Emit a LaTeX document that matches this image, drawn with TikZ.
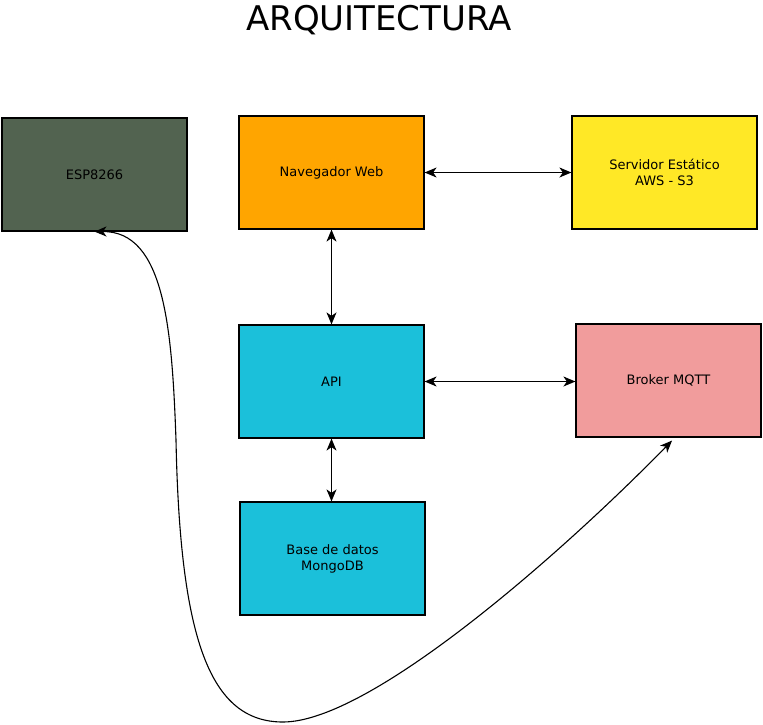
\documentclass[tikz,border=0pt]{standalone}
\usepackage{xcolor}
\usepackage{fontspec}
\setmainfont{DejaVu Sans}
\usetikzlibrary{arrows.meta, positioning}

\definecolor{espgreen}{HTML}{526350}
\definecolor{navorange}{HTML}{FFA500}
\definecolor{s3yellow}{HTML}{FFE826}
\definecolor{apicyan}{HTML}{1BC0DA}
\definecolor{mqttpink}{HTML}{F19C9C}

\begin{document}
\begin{tikzpicture}[x=1pt,y=-1pt,
    >={Stealth[length=12pt,width=10pt,inset=3.5pt]}]
        \useasboundingbox (0,0) rectangle (763,724);
        \node (title) at (379,20) {\fontsize{34}{40}\selectfont ARQUITECTURA};
        \begin{scope}[every node/.style={draw,line width=1.2pt,minimum width=185pt,
            minimum height=113pt,align=center,font=\fontsize{13}{16}\selectfont}]
          \node[fill=espgreen] (esp) at (94.5,174.5) {ESP8266};
          \node[fill=navorange] (nav) at (331.5,172.5) {Navegador Web};
          \node[fill=s3yellow] (s3) at (664.5,172.5) {Servidor Estático\\AWS - S3};
          \node[fill=apicyan] (api) at (331.5,381.5) {API};
          \node[fill=mqttpink] (mqtt) at (668.5,380.5) {Broker MQTT};
          \node[fill=apicyan] (db) at (332.5,558.5) {Base de datos\\MongoDB};
        \end{scope}
        \begin{scope}[every edge/.style={draw=black,line width=1.3pt,<->}]
          \path (nav) edge (s3);
          \path (nav) edge (api);
          \path (api.east) edge (mqtt.west |- api.east);
          \path (api.south) edge (api.south |- db.north);
        \end{scope}
        \coordinate (mqttin) at ([xshift=3.5pt,yshift=-3pt]mqtt.south);
        \draw[line width=1.1pt,<->] (esp.south) .. controls (165,231) and (172,330) .. (176,440)
          .. controls (180,640) and (210,722) .. (283,722)
          .. controls (370,722) and (560,555) .. (mqttin);
      \end{tikzpicture}
\end{document}
